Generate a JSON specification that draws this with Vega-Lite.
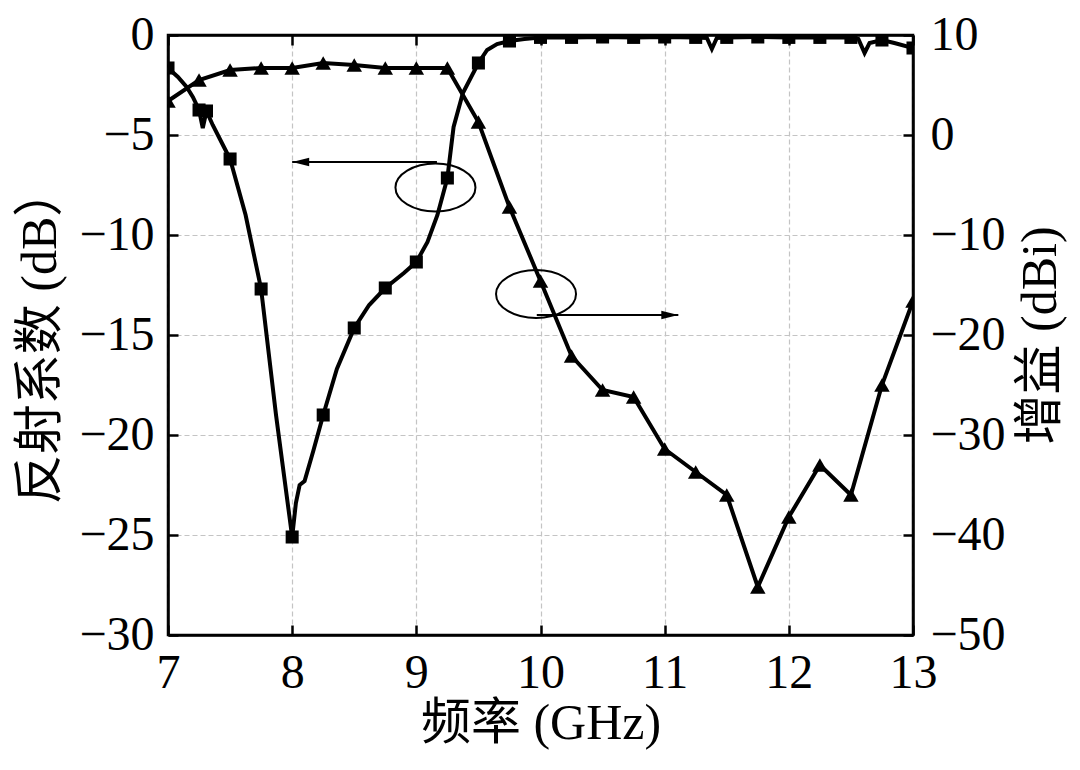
{
  "$schema": "https://vega.github.io/schema/vega-lite/v6.json",
  "width": 745,
  "height": 600,
  "autosize": {"type": "none"},
  "padding": {"left": 168, "top": 35, "right": 167, "bottom": 135},
  "background": "white",
  "config": {
    "view": {"stroke": "black", "strokeWidth": 2.5},
    "axis": {
      "labelFont": "Liberation Serif",
      "labelFontSize": 48,
      "labelColor": "black",
      "titleFont": "Liberation Serif, Noto Sans CJK SC",
      "titleFontSize": 50,
      "titleFontWeight": "normal",
      "titleColor": "black",
      "domainColor": "black",
      "domainWidth": 2.5,
      "tickColor": "black",
      "tickWidth": 2.5,
      "tickSize": -10,
      "gridColor": "#c4c4c4",
      "gridDash": [5, 3],
      "gridWidth": 1.2
    }
  },
  "datasets": {
    "s11": [
      {"f": 7.0, "db": -1.65, "m": 1},
      {"f": 7.08, "db": -2.1, "m": 0},
      {"f": 7.15, "db": -2.6, "m": 0},
      {"f": 7.2, "db": -3.1, "m": 0},
      {"f": 7.25, "db": -3.75, "m": 1},
      {"f": 7.28, "db": -4.65, "m": 0},
      {"f": 7.31, "db": -3.8, "m": 1},
      {"f": 7.36, "db": -4.5, "m": 0},
      {"f": 7.43, "db": -5.35, "m": 0},
      {"f": 7.5, "db": -6.2, "m": 1},
      {"f": 7.625, "db": -9.0, "m": 0},
      {"f": 7.75, "db": -12.7, "m": 1},
      {"f": 7.87, "db": -19.0, "m": 0},
      {"f": 8.0, "db": -25.1, "m": 1},
      {"f": 8.03, "db": -23.4, "m": 0},
      {"f": 8.06, "db": -22.5, "m": 0},
      {"f": 8.1, "db": -22.3, "m": 0},
      {"f": 8.17, "db": -20.8, "m": 0},
      {"f": 8.25, "db": -19.0, "m": 1},
      {"f": 8.36, "db": -16.7, "m": 0},
      {"f": 8.5, "db": -14.65, "m": 1},
      {"f": 8.62, "db": -13.5, "m": 0},
      {"f": 8.75, "db": -12.65, "m": 1},
      {"f": 8.9, "db": -11.9, "m": 0},
      {"f": 9.0, "db": -11.35, "m": 1},
      {"f": 9.09, "db": -10.35, "m": 0},
      {"f": 9.17, "db": -9.0, "m": 0},
      {"f": 9.25, "db": -7.15, "m": 1},
      {"f": 9.3, "db": -4.6, "m": 0},
      {"f": 9.375, "db": -2.9, "m": 0},
      {"f": 9.5, "db": -1.4, "m": 1},
      {"f": 9.57, "db": -0.75, "m": 0},
      {"f": 9.65, "db": -0.45, "m": 0},
      {"f": 9.75, "db": -0.3, "m": 1},
      {"f": 9.87, "db": -0.2, "m": 0},
      {"f": 10.0, "db": -0.12, "m": 1},
      {"f": 10.25, "db": -0.12, "m": 1},
      {"f": 10.5, "db": -0.1, "m": 1},
      {"f": 10.75, "db": -0.12, "m": 1},
      {"f": 11.0, "db": -0.1, "m": 1},
      {"f": 11.25, "db": -0.12, "m": 1},
      {"f": 11.34, "db": -0.15, "m": 0},
      {"f": 11.38, "db": -0.7, "m": 0},
      {"f": 11.42, "db": -0.15, "m": 0},
      {"f": 11.5, "db": -0.12, "m": 1},
      {"f": 11.75, "db": -0.1, "m": 1},
      {"f": 12.0, "db": -0.12, "m": 1},
      {"f": 12.25, "db": -0.12, "m": 1},
      {"f": 12.5, "db": -0.12, "m": 1},
      {"f": 12.56, "db": -0.2, "m": 0},
      {"f": 12.61, "db": -0.9, "m": 0},
      {"f": 12.65, "db": -0.4, "m": 0},
      {"f": 12.75, "db": -0.25, "m": 1},
      {"f": 12.85, "db": -0.4, "m": 0},
      {"f": 13.0, "db": -0.65, "m": 1}
    ],
    "gain": [
      {"f": 7.0, "dbi": 3.4},
      {"f": 7.25, "dbi": 5.5},
      {"f": 7.5, "dbi": 6.5},
      {"f": 7.75, "dbi": 6.7},
      {"f": 8.0, "dbi": 6.7},
      {"f": 8.25, "dbi": 7.2},
      {"f": 8.5, "dbi": 7.0},
      {"f": 8.75, "dbi": 6.7},
      {"f": 9.0, "dbi": 6.7},
      {"f": 9.25, "dbi": 6.7},
      {"f": 9.5, "dbi": 1.3},
      {"f": 9.75, "dbi": -7.2},
      {"f": 10.0, "dbi": -14.6},
      {"f": 10.25, "dbi": -22.1},
      {"f": 10.5, "dbi": -25.5},
      {"f": 10.75, "dbi": -26.2},
      {"f": 11.0, "dbi": -31.4},
      {"f": 11.25, "dbi": -33.7},
      {"f": 11.5, "dbi": -36.0},
      {"f": 11.75, "dbi": -45.2},
      {"f": 12.0, "dbi": -38.2},
      {"f": 12.25, "dbi": -33.0},
      {"f": 12.5, "dbi": -36.0},
      {"f": 12.75, "dbi": -25.0},
      {"f": 13.0, "dbi": -16.6}
    ],
    "ellipses": [
      {"f": 9.154, "db": -7.625},
      {"f": 9.964, "db": -12.95}
    ],
    "arrows": [
      {"f1": 9.166, "f2": 8.0, "db": -6.35, "dir": "left"},
      {"f1": 9.97, "f2": 11.11, "db": -14.0, "dir": "right"}
    ]
  },
  "layer": [
    {
      "layer": [
        {
          "data": {"name": "s11"},
          "mark": {"type": "line", "color": "black", "strokeWidth": 4, "clip": true},
          "encoding": {
            "x": {
              "field": "f", "type": "quantitative",
              "scale": {"domain": [7, 13], "nice": false, "zero": false},
              "axis": {
                "orient": "bottom", "values": [7, 8, 9, 10, 11, 12, 13], "format": "d", "grid": true,
                "labelPadding": 24, "labelFlush": false, "zindex": 0,
                "title": "频率 (GHz)", "titleX": 372.5, "titleY": 88,
                "titleAlign": "center", "titleBaseline": "middle"
              }
            },
            "y": {
              "field": "db", "type": "quantitative",
              "scale": {"domain": [-30, 0], "nice": false, "zero": false},
              "axis": {
                "orient": "left", "values": [-30, -25, -20, -15, -10, -5, 0], "format": "d", "grid": true,
                "labelPadding": 24, "labelFlush": false, "zindex": 0,
                "title": "反射系数 (dB）", "titleX": -128, "titleY": 300, "titleAngle": 270,
                "titleAlign": "center", "titleBaseline": "middle"
              }
            }
          }
        },
        {
          "data": {"name": "s11"},
          "transform": [{"filter": "datum.m == 1"}],
          "mark": {"type": "point", "shape": "square", "filled": true, "color": "black", "opacity": 1, "size": 170, "clip": true},
          "encoding": {
            "x": {"field": "f", "type": "quantitative", "title": "频率 (GHz)"},
            "y": {"field": "db", "type": "quantitative", "title": "反射系数 (dB）"}
          }
        },
        {
          "data": {"name": "ellipses"},
          "mark": {
            "type": "point",
            "shape": "M 1 0 C 1 0.331 0.552 0.6 0 0.6 C -0.552 0.6 -1 0.331 -1 0 C -1 -0.331 -0.552 -0.6 0 -0.6 C 0.552 -0.6 1 -0.331 1 0 Z",
            "filled": false, "stroke": "black", "strokeWidth": 2, "opacity": 1, "size": 6400
          },
          "encoding": {
            "x": {"field": "f", "type": "quantitative", "title": "频率 (GHz)"},
            "y": {"field": "db", "type": "quantitative", "title": "反射系数 (dB）"}
          }
        },
        {
          "data": {"name": "arrows"},
          "mark": {"type": "rule", "color": "black", "strokeWidth": 2},
          "encoding": {
            "x": {"field": "f1", "type": "quantitative", "title": "频率 (GHz)"},
            "x2": {"field": "f2"},
            "y": {"field": "db", "type": "quantitative", "title": "反射系数 (dB）"}
          }
        },
        {
          "data": {"name": "arrows"},
          "mark": {"type": "point", "filled": true, "color": "black", "opacity": 1, "size": 400},
          "encoding": {
            "x": {"field": "f2", "type": "quantitative", "title": "频率 (GHz)"},
            "y": {"field": "db", "type": "quantitative", "title": "反射系数 (dB）"},
            "shape": {
              "field": "dir", "type": "nominal", "legend": null,
              "scale": {
                "domain": ["left", "right"],
                "range": ["M 0 0 L 1.7 -0.42 L 1.7 0.42 Z", "M 0 0 L -1.7 -0.42 L -1.7 0.42 Z"]
              }
            }
          }
        }
      ]
    },
    {
      "layer": [
        {
          "data": {"name": "gain"},
          "mark": {"type": "line", "color": "black", "strokeWidth": 4, "clip": true},
          "encoding": {
            "x": {
              "field": "f", "type": "quantitative",
              "scale": {"domain": [7, 13], "nice": false, "zero": false},
              "axis": {
                "orient": "top", "values": [7, 8, 9, 10, 11, 12, 13], "grid": false,
                "labels": false, "title": null, "zindex": 1
              }
            },
            "y": {
              "field": "dbi", "type": "quantitative",
              "scale": {"domain": [-50, 10], "nice": false, "zero": false},
              "axis": {
                "orient": "right", "values": [-50, -40, -30, -20, -10, 0, 10], "format": "d", "grid": false,
                "labelPadding": 27, "labelFlush": false, "zindex": 1,
                "title": "增益 (dBi)", "titleX": 127, "titleY": 300, "titleAngle": 270,
                "titleAlign": "center", "titleBaseline": "middle"
              }
            }
          }
        },
        {
          "data": {"name": "gain"},
          "mark": {"type": "point", "shape": "triangle-up", "filled": true, "color": "black", "opacity": 1, "size": 240, "clip": true},
          "encoding": {
            "x": {"field": "f", "type": "quantitative", "title": null},
            "y": {"field": "dbi", "type": "quantitative", "title": "增益 (dBi)"}
          }
        }
      ]
    }
  ],
  "resolve": {"scale": {"y": "independent"}, "axis": {"x": "independent"}}
}
